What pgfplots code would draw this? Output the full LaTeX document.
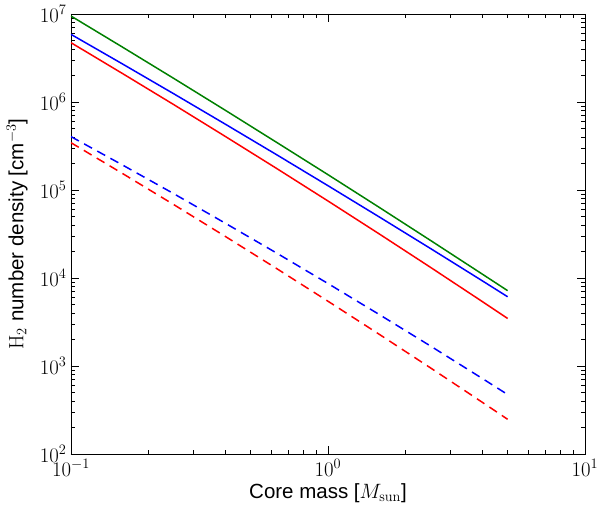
\documentclass[border=0pt]{standalone}
\usepackage[no-math]{fontspec}
\newfontfamily\labelfont{Liberation Sans}
\usepackage{pgfplots}
\pgfplotsset{compat=1.18}
\definecolor{mplgreen}{rgb}{0,0.5,0}
\begin{document}
\begin{tikzpicture}
\begin{axis}[
  scale only axis, width=514pt, height=440pt,
  xmode=log, ymode=log,
  xmin=0.1, xmax=10, ymin=1e2, ymax=1e7,
  xtick={0.1,1,10}, ytick={1e2,1e3,1e4,1e5,1e6,1e7},
  tick align=inside, xtick pos=both, ytick pos=both,
  major tick length=8pt, minor tick length=4pt,
  every tick/.style={black, line width=0.7pt},
  axis line style={line width=0.9pt},
  ticklabel style={font=\fontsize{20.5}{24}\selectfont},
  xticklabel style={yshift=-2pt},
  yticklabel style={xshift=-1pt},
  label style={font=\labelfont\fontsize{20.5}{24}\selectfont},
  xlabel={Core mass [$M_{\mathrm{sun}}$]},
  ylabel={$\mathrm{H_2}$ number density [cm$^{-3}$]},
  xlabel style={at={(axis description cs:0.5,-0.0886)}, anchor=center},
  ylabel style={at={(axis description cs:-0.105,0.5)}, anchor=center},
  every axis plot/.append style={line width=1.5pt},
]
\addplot[mplgreen] coordinates {
 (0.1,9.48e6) (0.1585,4.21e6) (0.2512,1.853e6) (0.3981,8.07e5) (0.631,3.48e5)
 (1,1.493e5) (1.585,6.33e4) (2.512,2.66e4) (3.981,1.109e4) (5,7180)};
\addplot[blue] coordinates {
 (0.1,5.87e6) (0.1585,2.71e6) (0.2512,1.239e6) (0.3981,5.61e5) (0.631,2.518e5)
 (1,1.119e5) (1.585,4.93e4) (2.512,2.153e4) (3.981,9310) (5,6120)};
\addplot[red] coordinates {
 (0.1,4.72e6) (0.1585,2.11e6) (0.2512,9.33e5) (0.3981,4.07e5) (0.631,1.758e5)
 (1,7.50e4) (1.585,3.16e4) (2.512,1.315e4) (3.981,5410) (5,3470)};
\addplot[blue, dash pattern=on 9pt off 6pt] coordinates {
 (0.1,4.04e5) (0.1585,1.927e5) (0.2512,9.07e4) (0.3981,4.20e4) (0.631,1.921e4)
 (1,8650) (1.585,3838) (2.512,1679) (3.981,723) (5,474)};
\addplot[red, dash pattern=on 9pt off 6pt] coordinates {
 (0.1,3.449e5) (0.1585,1.543e5) (0.2512,6.82e4) (0.3981,2.974e4) (0.631,1.281e4)
 (1,5445) (1.585,2286) (2.512,947) (3.981,387.7) (5,248)};
\end{axis}
\pgfresetboundingbox
\path[use as bounding box] (-71pt,-55pt) rectangle (529pt,454pt);
\end{tikzpicture}
\end{document}
